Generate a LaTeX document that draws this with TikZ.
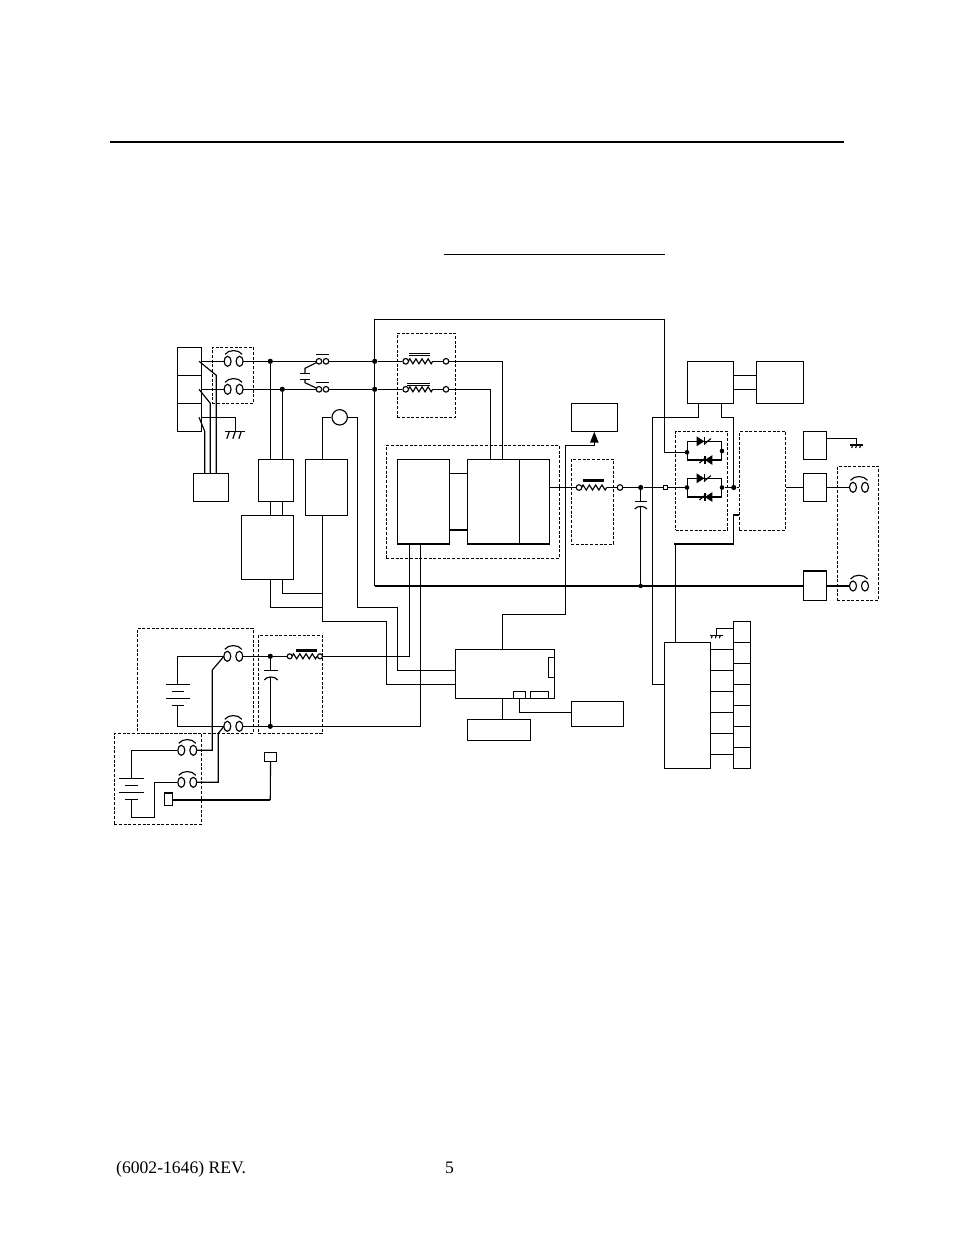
\documentclass[tikz,border=0pt]{standalone}
\usepackage{fontspec}
\setmainfont{Liberation Serif}
\tikzset{
  wire/.style={line width=1.15pt,line cap=butt,line join=miter},
  thickwire/.style={line width=2.3pt,line join=miter},
  boxs/.style={draw,line width=1.15pt,inner sep=0pt,outer sep=0pt},
  dashbox/.style={draw,line width=1pt,inner sep=0pt,outer sep=0pt,dash pattern=on 3pt off 1.7pt},
  dot/.style={circle,fill,inner sep=0pt,minimum size=5.2pt},
  term/.style={circle,draw,line width=1.15pt,fill=white,inner sep=0pt,minimum size=5.6pt},
  plug/.pic={
    \draw[line width=1.15pt] (-6,0) ellipse (3.5 and 5) (6,0) ellipse (3.5 and 5);
    \draw[line width=1.15pt] (-8.5,-7) .. controls (-5,-12) and (5,-12) .. (8.5,-7);
  },
  gnd/.pic={
    \draw[line width=1.15pt] (-10,0) -- (10,0);
    \foreach \q in {-6,0,6} \draw[line width=1.15pt] (\q,0) -- (\q-2.5,7.5);
  },
  gndsm/.pic={
    \draw[line width=1.15pt] (-6.5,0) -- (6.5,0);
    \foreach \q in {-4,0,4} \draw[line width=1.15pt] (\q,0) -- (\q-1,3);
  },
  scrr/.pic={
    \fill (-3.7,-4.9) -- (3.9,0) -- (-3.7,4.9) -- cycle;
    \draw[line width=1.15pt] (3.7,3) -- (10.4,-2.7);
    \draw[line width=1.15pt] (3.7,-4) -- (3.7,4);
  },
  scrl/.pic={
    \fill (3.7,-4.9) -- (-3.9,0) -- (3.7,4.9) -- cycle;
    \draw[line width=1.15pt] (-9.3,3) -- (-2.6,-2.7);
    \draw[line width=1.15pt] (-3.7,-4) -- (-3.7,4);
  }
}
% name, x1, y1, x2, y2
\newcommand\bx[6][boxs]{\node[#1,minimum width={(#5-#3)*1pt},minimum height={(#6-#4)*1pt}] (#2) at ({(#3+#5)/2},{(#4+#6)/2}) {};}
% zigzag x1 x2 y
\newcommand\zig[3]{\pgfmathsetmacro\zd{(#2-#1)/8}\draw[wire] (#1,#3) -- ++(.5*\zd,-2.5) -- ++(\zd,5) -- ++(\zd,-5) -- ++(\zd,5) -- ++(\zd,-5) -- ++(\zd,5) -- ++(\zd,-5) -- ++(\zd,5) -- ++(.5*\zd,-2.5);}
\begin{document}
\begin{tikzpicture}[x=1pt,y=-1pt]
\useasboundingbox (0,0) rectangle (954,1235);
\fill[white] (0,0) rectangle (954,1235);
% header rules
\coordinate (ruleL) at (110,142); \coordinate (ruleR) at (844,142);
\draw[line width=2pt] (ruleL) -- (ruleR);
\coordinate (ulL) at (444,254.5); \coordinate (ulR) at (665,254.5);
\draw[line width=.9pt] (ulL) -- (ulR);
% footer
\node[anchor=base west,inner sep=0pt,font=\fontsize{17.6}{20}\selectfont] (rev) at (116,1173.3) {(6002-1646) REV.};
\node[anchor=base west,inner sep=0pt,font=\fontsize{17.6}{20}\selectfont] (pg) at (445,1173.3) {5};

% ---------- dashed enclosures
\bx[dashbox]{dA}{212.3}{347.3}{253.3}{403.3}
\bx[dashbox]{dF}{397.3}{333.3}{455.3}{417.3}
\bx[dashbox]{dC}{386.3}{445.3}{559.3}{558}
\bx[dashbox]{dR}{571.3}{459.3}{613.7}{544}
\bx[dashbox]{dS}{675.7}{431.3}{727.7}{530}
\bx[dashbox]{dT}{739.3}{431.3}{785.7}{530}
\bx[dashbox]{dP}{837.3}{466.3}{878.3}{600.3}
\bx[dashbox]{dB1}{137.3}{628.3}{253.3}{733.3}
\bx[dashbox]{dB2}{258.3}{635.3}{322.3}{733.3}
\bx[dashbox]{dB3}{114.3}{733.3}{201.3}{824.3}

% ---------- boxes
\bx{conn}{177.5}{347.3}{201.5}{431.3}
\draw[wire] (conn.west |- 0,375.3) -- (conn.east |- 0,375.3);
\draw[wire] (conn.west |- 0,403.3) -- (conn.east |- 0,403.3);
\bx{sw}{193.3}{473.3}{228.3}{501.3}
\bx{psA}{258.3}{459.3}{293.3}{501.3}
\bx{psB}{241.3}{515.3}{293.3}{579.3}
\bx{psC}{305.3}{459.3}{347.7}{515.3}
\bx{ctA}{397.3}{459.3}{449.7}{544}
\bx{ctB}{467.3}{459.3}{549.7}{544}
\draw[wire] (519.3,459.3) -- (519.3,544);
\draw[thickwire] (ctA.south west) -- (ctA.south east);
\draw[thickwire] (ctB.south west) -- (ctB.south east);
\bx{ind}{571.3}{403.3}{617.7}{431.3}
\bx{cA}{687.3}{361.3}{733.7}{403.3}
\bx{cB}{756.3}{361.3}{803.7}{403.3}
\bx{rA}{803.3}{431.3}{826.7}{459.3}
\bx{rB}{803.3}{473.3}{826.7}{501.3}
\bx{rC}{803.3}{571.3}{826.7}{600.3}
\draw[thickwire] (rC.north west) -- (rC.north east);
\bx{mb}{455.3}{649.3}{554.7}{698.3}
\bx{mbS}{548.3}{657.3}{554.7}{677.3}
\bx{mbA}{513.3}{691.3}{525.3}{698.3}
\bx{mbB}{530.3}{691.3}{548.7}{698.3}
\bx{dsp}{571.3}{701.3}{623.3}{726.3}
\bx{key}{467.3}{719.3}{530.3}{740.3}
\bx{io}{664.3}{642.3}{710.3}{768.3}
\bx{tb}{733.3}{621.3}{750.3}{768.3}
\foreach \yy in {642.3,663.3,684.3,705.3,726.3,747.3}
  \draw[wire] (tb.west |- 0,\yy) -- (tb.east |- 0,\yy);
\foreach \yy in {649.3,670.3,691.3,712.3,733.3,754.3}
  \draw[wire] (io.east |- 0,\yy) -- (tb.west |- 0,\yy);
\bx{smL}{164.3}{792.7}{172.7}{805.3}
\draw[thickwire] (smL.north west) -- (smL.north east);
\bx{smR}{264.3}{752.3}{276.7}{761.3}
\node[circle,draw,line width=1.15pt,inner sep=0pt,minimum size=15.4pt] (lamp) at (339.7,417.3) {};

% ---------- named junctions and terminals
\node[dot] (j1) at (270.3,361.3) {};
\node[dot] (j2) at (282.3,389.3) {};
\node[dot] (j3) at (374.7,361.3) {};
\node[dot] (j4) at (374.7,389.3) {};
\node[dot] (j5) at (640.7,487.5) {};
\node[dot,minimum size=4.4pt] (j6) at (640.7,586) {};
\node[dot] (j7) at (733.7,487.5) {};
\node[dot] (j8) at (270.3,656.3) {};
\node[dot] (j9) at (270.3,726.3) {};
\node[dot,minimum size=4.6pt] (t1) at (687,452.3) {};
\node[dot,minimum size=4.6pt] (t2) at (722,451) {};
\node[dot,minimum size=4.6pt] (t3) at (687,487.5) {};
\node[dot,minimum size=4.6pt] (t4) at (722,487.5) {};
\node[term] (f1) at (405.7,361.3) {};
\node[term] (f2) at (446,361.3) {};
\node[term] (f3) at (405.7,389.3) {};
\node[term] (f4) at (446,389.3) {};
\node[term] (f5) at (579,487.5) {};
\node[term] (f6) at (620,487.5) {};
\node[draw,line width=1.15pt,inner sep=0pt,minimum size=3.6pt] (f7) at (665.3,487.5) {};
\node[term,minimum size=5pt] (f8) at (289.7,656.3) {};
\node[term,minimum size=5pt] (f9) at (320,656.3) {};
\node[term,minimum size=5.6pt] (s1) at (319,361.3) {};
\node[term,minimum size=5.6pt] (s2) at (326,361.3) {};
\node[term,minimum size=5.6pt] (s3) at (319,389.3) {};
\node[term,minimum size=5.6pt] (s4) at (326,389.3) {};

% ---------- plugs
\pic at (233.6,361.3) {plug};
\pic at (233.6,389.3) {plug};
\pic at (233.3,656.3) {plug};
\pic at (233.3,726.3) {plug};
\pic at (187.3,750.3) {plug};
\pic at (187.3,782.3) {plug};
\pic at (859,487.3) {plug};
\pic at (859,586) {plug};

% ---------- input wiring
\draw[wire] (conn.east |- j1) -- (224,361.3) (243.3,361.3) -- (j1) -- (s1);
\draw[wire] (conn.east |- j2) -- (224,389.3) (243.3,389.3) -- (j2) -- (s3);
\draw[wire] (s2) -- (j3) -- (f1);
\draw[wire] (s4) -- (j4) -- (f3);
\draw[wire] (199,361.3) -- (216.3,375.3) -- (sw.north -| 216.3,0);
\draw[wire] (199,389.3) -- (210.3,403.3) -- (sw.north -| 210.3,0);
\draw[wire] (199,417.3) -- (204.7,431.3) -- (sw.north -| 204.7,0);
\draw[wire] (conn.east |- 0,417.3) -- (235.3,417.3) -- (235.3,431.3);
\pic at (235.3,431.3) {gnd};
% main switch
\draw[wire] (316,354.3) -- (329,354.3);
\draw[wire] (316,382.3) -- (329,382.3);
\draw[wire] (s1) -- (305,368.3) -- (305,373.3);
\draw[wire] (s3) -- (305,382.7) -- (305,379.7);
\draw[wire] (300,373.3) -- (310,373.3);
\draw[wire] (300,379.7) -- (310,379.7);
% line filter
\zig{408.3}{432.7}{361.3}
\zig{408.3}{432.7}{389.3}
\draw[wire] (409,353.3) -- (430,353.3) (409,355.3) -- (430,355.3);
\draw[wire] (407,383.3) -- (430,383.3) (407,385.3) -- (430,385.3);
\draw[wire] (432.7,361.3) -- (f2);
\draw[wire] (432.7,389.3) -- (f4);
\draw[wire] (f2) -- (502.3,361.3) -- (ctB.north -| 502.3,0);
\draw[wire] (f4) -- (490.7,389.3) -- (ctB.north -| 490.7,0);
% psu feeds
\draw[wire] (j1) -- (psA.north -| j1);
\draw[wire] (j2) -- (psA.north -| j2);
\draw[wire] (psA.south -| j1) -- (psB.north -| j1);
\draw[wire] (psA.south -| j2) -- (psB.north -| j2);
\draw[wire] (psB.south -| j1) -- (270.3,607.3) -- (322.3,607.3);
\draw[wire] (psB.south -| j2) -- (282.3,593.3) -- (322.3,593.3);
\draw[wire] (lamp.west) -- (322.3,417.3) -- (psC.north -| 322.3,0);
\draw[wire] (psC.south -| 322.3,0) -- (322.3,621.3) -- (386.3,621.3) -- (386.3,684.3) -- (mb.west |- 0,684.3);
\draw[wire] (lamp.east) -- (357.7,417.3) -- (357.7,607.3) -- (397.7,607.3) -- (397.7,670.3) -- (mb.west |- 0,670.3);
% controller
\draw[wire] (ctA.east |- 0,473.3) -- (ctB.west |- 0,473.3);
\draw[line width=1.7pt] (ctA.east |- 0,530) -- (ctB.west |- 0,530);
\draw[wire] (ctA.south -| 409.3,0) -- (409.3,656.3) -- (f9);
\draw[wire] (ctA.south -| 420.3,0) -- (420.3,726.3) -- (j9);
% output / inductor
\draw[wire] (ctB.east |- f5) -- (f5);
\zig{581.5}{606.7}{487.5}
\fill (582.7,478.8) rectangle (604,481.8);
\draw[wire] (606.7,487.5) -- (f6);
\draw[wire] (f6) -- (j5) -- (f7) -- (t3);
\draw[wire] (j5) -- (640.7,501.7);
\draw[wire] (634.7,501.7) -- (647,501.7);
\draw[wire] (634.7,509) .. controls (637,505.5) and (644.5,505.5) .. (647,509);
\draw[wire] (640.7,506.5) -- (j6);
% main return
\draw[thickwire] (374.7,586) -- (rC.west |- 0,586);
\draw[thickwire] (rC.east |- 0,586) -- (850,586);
\draw[wire] (j3) -- (374.7,319.3) -- (664.3,319.3) -- (664.3,452.3) -- (t1);
\draw[wire] (j3) -- (j4) -- (374.7,586);
% indicator
\draw[wire] (ind.south -| 594.3,0) ++(0,5) -- (594.3,445.3) -- (565.7,445.3) -- (565.7,614.3) -- (502.3,614.3) -- (mb.north -| 502.3,0);
\fill (594.3,431.8) -- (590,442.5) -- (598.6,442.5) -- cycle;
% SCR bridges
\draw[wire] (687.3,441.3) -- (721.7,441.3) -- (721.7,460) -- (687.3,460) -- cycle;
\draw[wire] (687.3,478.3) -- (721.7,478.3) -- (721.7,497) -- (687.3,497) -- cycle;
\pic at (700.4,441.3) {scrr};
\pic at (708.7,460) {scrl};
\pic at (700.4,478.3) {scrr};
\pic at (708.7,497) {scrl};
\draw[wire] (t4) -- (j7) -- (dT.west |- j7);
\draw[wire] (cA.south -| 721.3,0) -- (721.3,417.3) -- (733.7,417.3) -- (j7);
\draw[wire] (cA.south -| 698.7,0) -- (698.7,417.3) -- (652.3,417.3) -- (652.3,684.3) -- (io.west |- 0,684.3);
\draw[wire] (cA.east |- 0,375.3) -- (cB.west |- 0,375.3);
\draw[wire] (cA.east |- 0,389.3) -- (cB.west |- 0,389.3);
\draw[wire] (dT.west |- 0,515) -- (733.7,515) -- (733.7,543.7);
\draw[thickwire] (733.7,543.7) -- (675.5,543.7) -- (675.5,544.7);
\draw[wire] (675.5,543.7) -- (io.north -| 675.5,0);
% right side
\draw[wire] (dT.east |- rB.west) -- (rB.west);
\draw[wire] (rB.east) -- (850,487.3);
\draw[wire] (rA.east |- 0,438.3) -- (856.7,438.3) -- (856.7,445);
\pic at (856.7,445) {gndsm};
\draw[wire] (tb.west |- 0,628.3) -- (716.3,628.3) -- (716.3,635.3);
\pic at (716.3,635.3) {gndsm};
% main board links
\draw[wire] (mbA.south -| 519.3,0) -- (519.3,712.3) -- (dsp.west |- 0,712.3);
\draw[wire] (mb.south -| 502.3,0) -- (key.north -| 502.3,0);
% battery group 1
\draw[wire] (224,656.3) -- (177.7,656.3) -- (177.7,684.3);
\draw[wire] (166,684.3) -- (190,684.3) (171.7,691.3) -- (184,691.3) (166,698.3) -- (190,698.3) (171.7,705.3) -- (184,705.3);
\draw[wire] (177.7,705.3) -- (177.7,726.3) -- (224,726.3);
\draw[wire] (243.3,656.3) -- (j8) -- (f8);
\zig{292}{317}{656.3}
\fill (296,648.8) rectangle (316.7,651.8);
\draw[wire] (243.3,726.3) -- (j9);
\draw[wire] (j8) -- (270.3,670.3);
\draw[wire] (264.3,670.3) -- (277.7,670.3);
\draw[wire] (264.3,680) .. controls (266.5,676) and (275.5,676) .. (277.7,680);
\draw[wire] (270.3,677.3) -- (j9);
\draw[wire] (224,656.3) -- (212.3,670) -- (212.3,750.3) -- (196.7,750.3);
\draw[wire] (224,726.3) -- (218.3,733.3) -- (218.3,782.3) -- (196.7,782.3);
% battery group 2
\draw[wire] (177.3,750.3) -- (131.3,750.3) -- (131.3,778.3);
\draw[wire] (119,778.3) -- (143.7,778.3) (124.7,785.3) -- (137.7,785.3) (119,792.3) -- (143.7,792.3) (124.7,799.3) -- (137.7,799.3);
\draw[wire] (131.3,799.3) -- (131.3,817.3) -- (154.3,817.3) -- (154.3,782.3) -- (177.3,782.3);
% sense lead
\draw[thickwire] (smL.east |- 0,800) -- (270.3,800);
\draw[wire] (270.3,800) -- (smR.south);
\end{tikzpicture}
\end{document}
